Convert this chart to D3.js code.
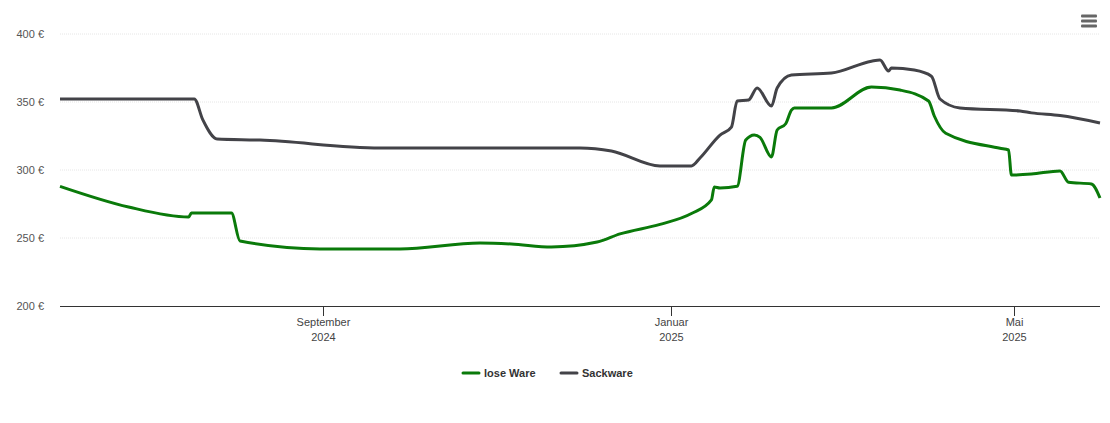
<!DOCTYPE html>
<html><head><meta charset="utf-8">
<script src="https://cdn.jsdelivr.net/npm/d3@7"></script>
<style>body{margin:0;background:#fff;font-family:"Liberation Sans",Arial,sans-serif}</style>
</head><body><svg id="c" width="1110" height="423"></svg>
<script>
const looseDates=["2024-06-01","2024-06-25","2024-07-16","2024-07-17","2024-07-31","2024-08-03","2024-08-31","2024-09-28","2024-10-26","2024-11-06","2024-11-20","2024-12-06","2024-12-14","2024-12-28","2025-01-08","2025-01-15","2025-01-16","2025-01-18","2025-01-24","2025-01-27","2025-01-30","2025-02-01","2025-02-05","2025-02-07","2025-02-10","2025-02-12","2025-02-13","2025-02-26","2025-03-12","2025-03-22","2025-04-01","2025-04-03","2025-04-07","2025-04-26","2025-04-29","2025-04-30","2025-05-07","2025-05-17","2025-05-20","2025-05-28","2025-05-31"];
const looseValues=[288,272.8,265.4,268.4,268.4,247.8,242,242,246.3,245.6,243.4,247,253,260,268,278,287.5,286.8,288,322,325.7,324,309.6,329.4,334,344,345.6,345.6,361,358.8,350.7,339.7,327,316,314.7,296.3,297,299.3,291,289.7,279.4];
const sackDates=["2024-06-01","2024-07-18","2024-07-21","2024-07-26","2024-08-10","2024-09-21","2024-11-30","2024-12-11","2024-12-28","2025-01-08","2025-01-11","2025-01-18","2025-01-22","2025-01-24","2025-01-28","2025-01-31","2025-02-05","2025-02-07","2025-02-12","2025-02-26","2025-03-12","2025-03-15","2025-03-18","2025-03-19","2025-03-27","2025-04-02","2025-04-05","2025-04-12","2025-05-03","2025-05-07","2025-05-17","2025-05-31"];
const sackValues=[352.2,352.2,336.8,322.8,322,316.2,316.2,314,303,303,308.8,325.7,331.6,350.7,351.5,360.3,347,360.3,369.9,371.3,380,380.9,372.8,375,373.5,369,352.2,345.6,343.4,342,340,334.6];
const yTicks=[200,250,300,350,400];
const xTicks=[["2024-09-01","September","2024"],["2025-01-01","Januar","2025"],["2025-05-01","Mai","2025"]];
const seriesNames=["lose Ware","Sackware"];
const colors=["#0a7a0a","#434348"];

const svg=d3.select("#c");
const p=d3.timeParse("%Y-%m-%d");
const x=d3.scaleTime().domain([p("2024-06-01"),p("2025-05-31")]).range([60,1100]);
const y=d3.scaleLinear().domain([200,400]).range([306,34]);
yTicks.forEach(t=>{
  if(t>200) svg.append("line").attr("x1",60).attr("x2",1100).attr("y1",y(t)).attr("y2",y(t)).attr("stroke","#e6e6e6").attr("stroke-dasharray","1,1");
  svg.append("text").attr("x",44).attr("y",y(t)+4).attr("text-anchor","end").attr("font-size",11).attr("fill","#555").text(t+" €");
});
svg.append("line").attr("x1",60).attr("x2",1100).attr("y1",306.5).attr("y2",306.5).attr("stroke","#333");
xTicks.forEach(([d,a,b])=>{
  const xx=Math.round(x(p(d)))+0.5;
  svg.append("line").attr("x1",xx).attr("x2",xx).attr("y1",306).attr("y2",316).attr("stroke","#333");
  svg.append("text").attr("x",xx).attr("y",326).attr("text-anchor","middle").attr("font-size",11).attr("fill","#444").text(a);
  svg.append("text").attr("x",xx).attr("y",341).attr("text-anchor","middle").attr("font-size",11).attr("fill","#444").text(b);
});
const line=d3.line().x(d=>x(d[0])).y(d=>y(d[1])).curve(d3.curveMonotoneX);
[[looseDates,looseValues],[sackDates,sackValues]].forEach(([ds,vs],i)=>{
  svg.append("path").datum(ds.map((d,j)=>[p(d),vs[j]])).attr("d",line).attr("fill","none").attr("stroke",colors[i]).attr("stroke-width",3).attr("stroke-linejoin","round");
});
const lx=[463,561];
seriesNames.forEach((n,i)=>{
  svg.append("line").attr("x1",lx[i]).attr("x2",lx[i]+16).attr("y1",373).attr("y2",373).attr("stroke",colors[i]).attr("stroke-width",3).attr("stroke-linecap","round");
  svg.append("text").attr("x",lx[i]+21).attr("y",377).attr("font-size",11).attr("font-weight","bold").attr("fill","#333").text(n);
});
[16,21,26].forEach(yy=>svg.append("rect").attr("x",1081).attr("y",yy-1.5).attr("width",16).attr("height",3).attr("rx",1).attr("fill","#666"));
</script></body></html>
